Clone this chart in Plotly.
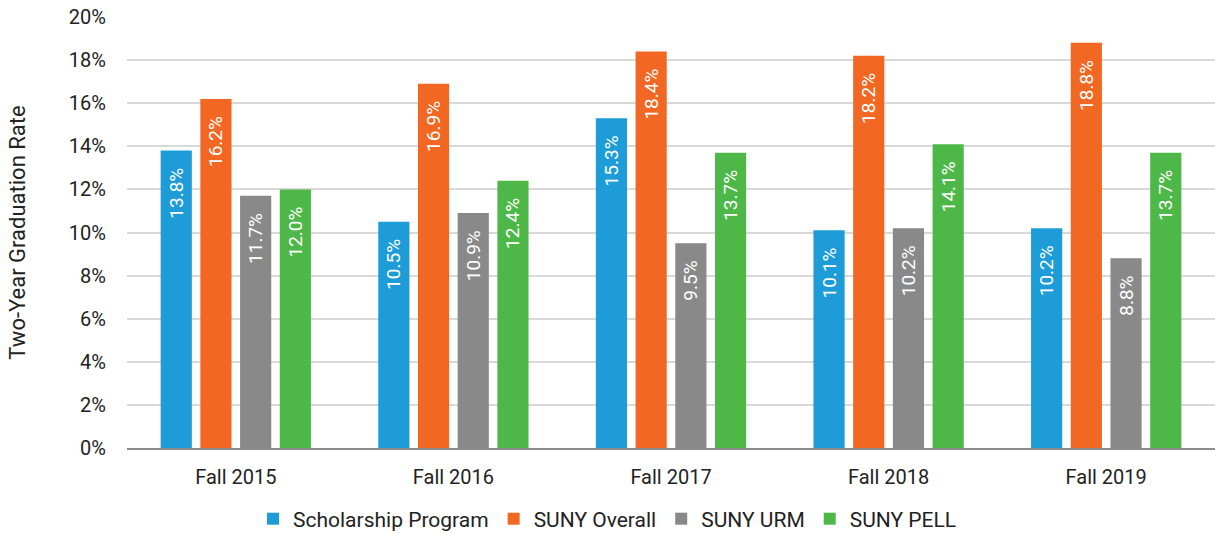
import plotly.graph_objects as go

categories = ["Fall 2015", "Fall 2016", "Fall 2017", "Fall 2018", "Fall 2019"]
scholarship = [13.8, 10.5, 15.3, 10.1, 10.2]
suny_overall = [16.2, 16.9, 18.4, 18.2, 18.8]
suny_urm = [11.7, 10.9, 9.5, 10.2, 8.8]
suny_pell = [12.0, 12.4, 13.7, 14.1, 13.7]

series = [
    ("Scholarship Program", scholarship, "#1E9CD7"),
    ("SUNY Overall", suny_overall, "#F26722"),
    ("SUNY URM", suny_urm, "#898989"),
    ("SUNY PELL", suny_pell, "#4DB848"),
]

FONT = "Roboto"
TXT = "#222222"
fig = go.Figure()
for name, vals, color in series:
    fig.add_trace(go.Bar(
        x=categories, y=vals, name=name,
        marker=dict(color=color, line=dict(width=0)),
        text=[f"{v:.1f}%\u00a0\u00a0\u00a0" for v in vals],
        textposition="inside", insidetextanchor="end",
        textangle=-90,
        textfont=dict(color="white", size=19, family=FONT),
    ))

fig.update_layout(
    width=1215, height=534,
    margin=dict(l=127, r=0, t=17, b=86),
    paper_bgcolor="white", plot_bgcolor="white",
    barmode="group", bargap=0.27, bargroupgap=0.215,
    font=dict(family=FONT, color=TXT, size=20),
    legend=dict(orientation="h", xref="container", x=0.5, xanchor="center",
                yref="container", y=0.028, yanchor="middle",
                font=dict(size=21, family=FONT, color=TXT), itemwidth=30,
                traceorder="normal"),
    xaxis=dict(showline=True, linecolor="#8c8c8c", linewidth=2, ticks="",
               ticklabelstandoff=10,
               tickfont=dict(size=20, family=FONT, color=TXT)),
    yaxis=dict(range=[0, 20], dtick=2, ticksuffix="%", showgrid=True,
               gridcolor="#d9d9d9", gridwidth=1.5, zeroline=False,
               ticklabelstandoff=20, ticklabeloverflow="allow",
               tickfont=dict(size=20, family=FONT, color=TXT),
               title=dict(text="Two-Year Graduation Rate", standoff=37,
                          font=dict(size=22, family=FONT, color=TXT))),
)

fig.write_html("out.html",
               config={"displayModeBar": False},
               post_script="document.body.style.margin='0';document.body.style.overflow='hidden';")
